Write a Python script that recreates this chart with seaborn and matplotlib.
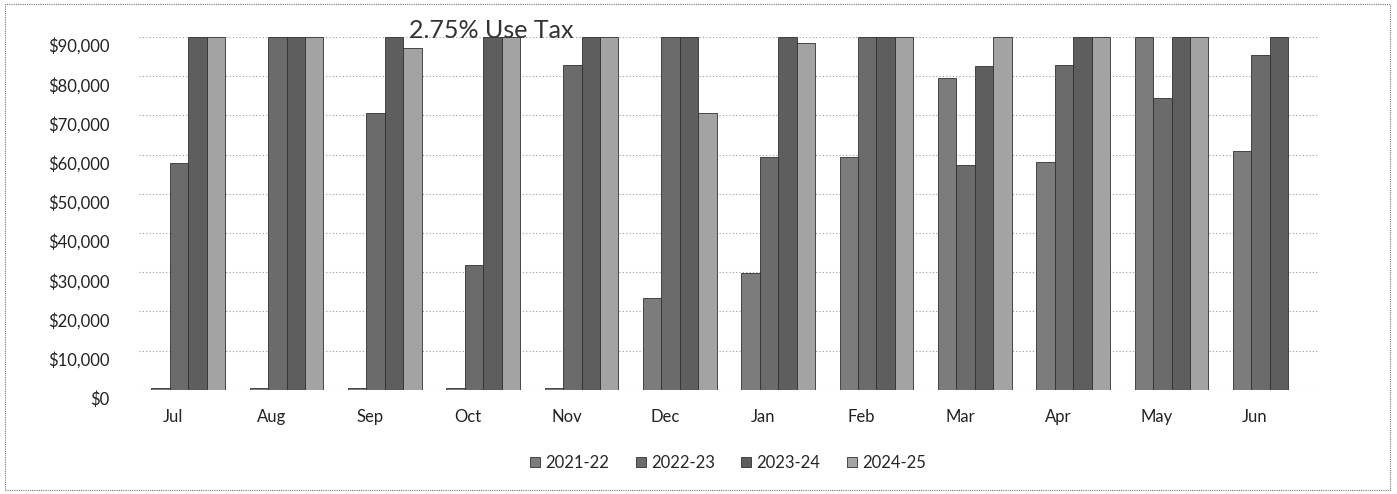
import pandas as pd
import matplotlib.pyplot as plt
import numpy as np
import seaborn as sns
from matplotlib.patches import Rectangle
from matplotlib.ticker import FuncFormatter
from matplotlib.transforms import ScaledTranslation

months = ['Jul', 'Aug', 'Sep', 'Oct', 'Nov', 'Dec', 'Jan', 'Feb', 'Mar', 'Apr', 'May', 'Jun']
years = ['2021-22', '2022-23', '2023-24', '2024-25']

# Values (axis is capped at $90,000)
fy_2021_22 = [500, 500, 500, 500, 500, 23400, 29800, 59500, 79500, 58200, 90000, 60800]
fy_2022_23 = [57800, 90000, 70600, 31900, 82900, 90000, 59500, 90000, 57400, 82900, 74400, 85500]
fy_2023_24 = [90000, 90000, 90000, 90000, 90000, 90000, 90000, 90000, 82500, 90000, 90000, 90000]
fy_2024_25 = [90000, 90000, 87200, 90000, 90000, 70600, 88400, 90000, 90000, 90000, 90000, 0]

colors = ['#7c7c7c', '#6b6b6b', '#5e5e5e', '#a3a3a3']

df = pd.DataFrame({
    'month': months * 4,
    'year': np.repeat(years, len(months)),
    'value': fy_2021_22 + fy_2022_23 + fy_2023_24 + fy_2024_25,
})

sns.set_style('white')
plt.rcParams['font.family'] = ['Lato', 'DejaVu Sans']

fig = plt.figure(figsize=(13.97, 4.94), dpi=100)
# bars sit a bit right of their labels, like the 3D original
ax = fig.add_axes([139 / 1397, 0.211, 1180 / 1397, 0.714])

ax.grid(axis='y', color='#9a9a9a', linestyle=(0, (1, 2)), linewidth=0.8, zorder=0)
ax.set_axisbelow(True)

sns.barplot(data=df, x='month', y='value', hue='year', order=months, hue_order=years,
            palette=colors, saturation=1, width=0.75, edgecolor='#303030', linewidth=0.6,
            ax=ax, legend=True)

ax.set_ylim(0, 90000)
ax.set_xlim(-0.5, 11.5)
ax.set_yticks(np.arange(0, 90001, 10000))
ax.yaxis.set_major_formatter(FuncFormatter(lambda v, p: f'${v:,.0f}'))
ax.set_xlabel('')
ax.set_ylabel('')
ax.tick_params(axis='both', length=0, labelsize=12, colors='#222222')
ax.tick_params(axis='x', pad=14)
ax.tick_params(axis='y', pad=21)
sns.despine(ax=ax, left=True, bottom=True)

# shift tick labels the way the 3D chart draws them
for lbl in ax.get_xticklabels():
    lbl.set_transform(lbl.get_transform() + ScaledTranslation(-0.15, 0, fig.dpi_scale_trans))
for lbl in ax.get_yticklabels():
    lbl.set_transform(lbl.get_transform() + ScaledTranslation(0, -0.08, fig.dpi_scale_trans))

handles, labels = ax.get_legend_handles_labels()
ax.get_legend().remove()
fig.legend(handles, labels, loc='center', bbox_to_anchor=(728 / 1397, 1 - 463 / 494),
           ncol=4, frameon=False, fontsize=12, handlelength=0.6, handleheight=0.6,
           handletextpad=0.3, columnspacing=1.6)

fig.text(491 / 1397, 1 - 30 / 494, '2.75% Use Tax', ha='center', va='center',
         fontsize=18, color='#333333')

# dotted frame round the whole chart
fig.patches.append(Rectangle((5 / 1397, 4 / 494), 1385 / 1397, 486 / 494,
                             transform=fig.transFigure, fill=False,
                             edgecolor='#777777', linestyle=(0, (1, 1)), linewidth=0.8))

fig.savefig('out.png', dpi=100)
